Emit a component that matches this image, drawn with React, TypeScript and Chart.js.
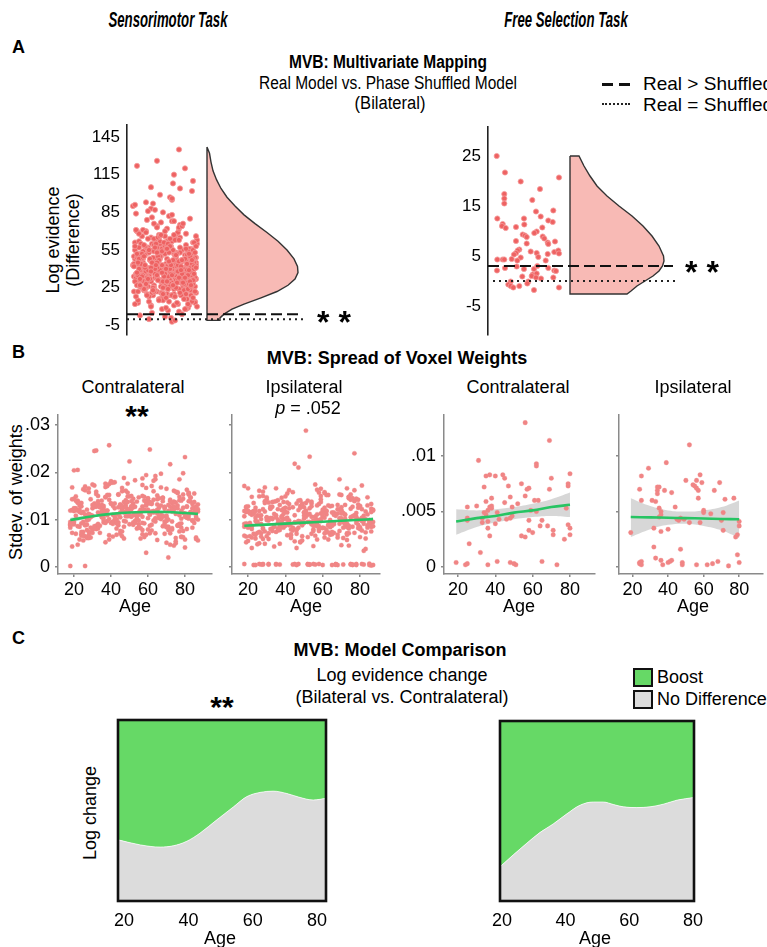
import React, { useEffect, useRef } from "react";
import { Chart, registerables } from "chart.js";
Chart.register(...registerables);

const SANS = '"Liberation Sans", Arial, Helvetica, sans-serif';
Chart.defaults.font.family = SANS;
Chart.defaults.color = "#000";

// ---------------- Panel A : Sensorimotor (log evidence difference) ----------------
const SENS_LOGEV = [
  42, 37, 55, 28, 61, 19, 47, 33, 70, 24, 39, 51, 13, 44, 30, 58, 36, 22, 49, 66,
  41, 27, 53, 35, 8, 45, 31, 62, 18, 40, 57, 26, 48, 34, 75, 21, 43, 38, 52, 16,
  29, 46, 59, 32, 11, 50, 37, 68, 25, 42, 80, 20, 39, 54, 14, 47, 33, 63, 28, 44,
  36, 56, 23, 41, 72, 30, 48, 17, 38, 60, 27, 45, 9, 35, 52, 31, 43, 65, 22, 40,
  34, 50, 26, 46, 78, 19, 37, 57, 29, 42, 12, 49, 33, 61, 24, 39, 55, 31, 88, 44,
  27, 41, 53, 36, 15, 47, 30, 64, 21, 43, 35, 58, 25, 48, 6, 38, 51, 32, 70, 45,
  23, 40, 56, 34, 18, 44, 29, 67, 37, 52, 26, 46, 10, 39, 59, 32, 42, 82, 28, 49,
  36, 54, 20, 43, 74, 31, 47, 16, 38, 62, 25, 45, 33, 57, 22, 40, 93, 30, 50, 35,
  44, 28, 60, 37, 13, 48, 26, 69, 34, 51, 19, 41, 55, 30, 46, 85, 24, 39, 63, 32,
  42, 17, 53, 36, 76, 27, 45, 58, 21, 38, 49, 31, 7, 43, 66, 29, 52, 35, 40, 97,
  25, 47, 33, 61, 14, 39, 54, 28, 44, 72, 22, 36, 50, 31, 86, 41, 19, 57, 34, 46,
  26, 48, 38, 65, 12, 43, 30, 55, 37, 79, 23, 45, 32, 60, 18, 40, 51, 29, 104, 35,
  47, 21, 42, 68, 33, 53, 9, 38, 27, 49, 36, 63, 24, 44, 15, 31, 57, 40, 90, 34,
  50, 28, 41, 73, 20, 46, 37, 59, 26, 43, 11, 35, 52, 30, 66, 39, 23, 48, 83, 32,
  45, 18, 40, 56, 29, 71, 36, 44, 14, 51, 33, 62, 25, 42, 3, 38, 54, 31, 110, 47,
  24, 39, 58, 35, 81, 27, 46, 19, 41, 64, 30, 49, 37, 16, 55, 43, 92, 28, 34, 120,
  1, 44, 21, 52, 36, 77, 29, 47, 12, 40, 61, 33, 25, 48, 99, 38, 20, 56, 31, 135,
  5, 43, 26, 67, 35, 50, 17, 39, 74, 30, 45, 8, 53, 37, 87, 23, 42, 60, 115, -2,
  126, 122, 105, 102, 95, 2, 4, 0, -1, 91,
  33, 48, 21, 57, 39, 26, 64, 43, 18, 52, 36, 71, 29, 45, 11, 58, 40, 24, 50, 35,
  62, 27, 46, 31, 55, 19, 41, 68, 34, 49, 23, 60, 38, 14, 53, 30, 44, 76, 26, 47,
  37, 56, 22, 42, 65, 32, 51, 17, 40, 59, 28, 45, 84, 35, 20, 48, 63, 31, 43, 10,
  54, 25, 39, 69, 30, 47, 16, 58, 36, 44, 27, 61, 41, 22, 50, 33, 73, 38, 19, 46,
  29, 52, 35, 66, 24, 43, 57, 13, 40, 31, 55, 21, 48, 37, 78, 26, 45, 60, 34, 8,
  42, 18, 53, 30, 64, 39, 25, 49, 36, 58, 23, 44, 70, 32, 51, 15, 41, 96, 28, 47,
  38, 56, 20, 45, 67, 33, 50, 27, 43, 108,
];
const SENS_JITTER = [
  14, 52, 33, 61, 8, 41, 25, 67, 19, 47, 36, 58, 11, 29, 64, 44, 22, 55, 9, 38,
  62, 27, 49, 16, 35, 69, 43, 12, 57, 31, 21, 65, 40, 7, 53, 26, 46, 60, 18, 34,
  45, 10, 59, 37, 24, 66, 30, 50, 15, 42, 63, 20, 54, 32, 68, 13, 48, 28, 56, 39,
  23, 64, 17, 51, 40, 9, 58, 35, 27, 70, 44, 14, 61, 22, 47, 33, 6, 53, 30, 67,
  50, 31, 68, 12, 45, 26, 57, 19, 62, 38, 8, 49, 28, 66, 41, 16, 55, 36, 24, 60,
  37, 58, 21, 46, 11, 63, 34, 48, 25, 69, 15, 43, 56, 29, 52, 18, 65, 39, 10, 54,
  28, 47, 62, 20, 39, 7, 54, 32, 66, 13, 44, 59, 24, 50, 35, 68, 17, 42, 61, 26,
  56, 16, 40, 65, 30, 49, 12, 60, 23, 45, 37, 67, 9, 53, 27, 41, 19, 63, 34, 48,
  11, 43, 25, 57, 68, 33, 21, 51, 39, 14, 64, 29, 46, 8, 59, 36, 52, 22, 70, 31,
  65, 36, 53, 9, 27, 60, 45, 18, 56, 32, 69, 24, 41, 62, 15, 50, 38, 10, 57, 43,
  19, 55, 30, 67, 42, 13, 61, 37, 26, 52, 7, 46, 33, 58, 21, 64, 44, 29, 12, 49,
  40, 8, 63, 24, 51, 35, 17, 66, 43, 20, 57, 31, 69, 14, 47, 26, 60, 38, 53, 16,
  59, 34, 46, 12, 68, 22, 39, 55, 10, 63, 28, 48, 18, 65, 36, 54, 30, 43, 6, 61,
  31, 66, 20, 52, 37, 14, 58, 27, 47, 41, 62, 11, 50, 24, 69, 33, 57, 16, 45, 23,
  48, 22, 56, 35, 61, 9, 44, 29, 65, 18, 53, 40, 27, 67, 13, 60, 35, 51, 66, 32,
  17, 60, 38, 64, 25, 46, 11, 54, 30, 43, 20, 68, 36, 57, 8, 49, 26, 62, 41, 58,
  44, 28, 69, 15, 57, 34, 50, 23, 61, 12, 38, 55, 26, 66, 33, 19, 47, 59, 31, 52,
  25, 53, 13, 47, 30, 63, 39, 21, 55, 36, 16, 59, 42, 10, 28, 65, 50, 33, 47, 45,
  30, 10, 24, 65, 45, 38, 55, 22, 48, 8,
  20, 58, 35, 12, 66, 43, 27, 51, 9, 62, 38, 16, 55, 30, 47, 69, 24, 41, 7, 60,
  33, 13, 52, 67, 26, 45, 18, 59, 37, 10, 63, 29, 50, 22, 68, 40, 15, 56, 34, 46,
  64, 39, 11, 54, 31, 21, 48, 66, 28, 17, 57, 42, 9, 61, 36, 23, 52, 13, 44, 70,
  27, 49, 62, 19, 40, 65, 32, 8, 55, 14, 46, 37, 24, 68, 11, 58, 30, 51, 20, 42,
  56, 10, 45, 33, 61, 18, 28, 50, 39, 66, 22, 53, 12, 35, 47, 64, 25, 41, 15, 58,
  7, 48, 30, 63, 21, 54, 36, 16, 67, 43, 26, 60, 38, 13, 49, 32, 69, 45, 19, 55,
  24, 40, 59, 11, 34, 52, 17, 64, 29, 46,
];
const SENS_VIOLIN_V = [137, 132, 125, 118, 111, 104, 97, 90, 83, 76, 69, 62, 55, 48, 42, 37, 32, 27, 22, 17, 12, 8, 4, 1, -1];
const SENS_VIOLIN_W = [0, 2.5, 4, 6, 9.5, 14, 20, 28, 37, 48, 60, 71, 80, 87, 90.5, 91, 88, 81, 70, 54, 37, 25, 17, 13, 13];
const SENS_REAL_MEAN = 4;
const SHUFFLED_LEVEL = 0;
const SENS_Y_TICKS = [-5, 25, 55, 85, 115, 145];

// ---------------- Panel A : Free selection ----------------
const FS_LOGEV = [
  25, 21.7, 19.9, 20.7, 18.4, 17.4, 16.5, 15.5, 16.2, 13.9, 14.1, 12.5, 12.9, 12.5, 12.1, 11.8, 11.4, 11.0, 10.6, 11.3,
  10.8, 10.7, 9.9, 9.6, 9.3, 9.1, 8.8, 8.9, 8.5, 8.0, 7.9, 7.7, 7.4, 7.5, 6.3, 6.1, 5.6, 5.3, 5.9, 5.6,
  4.8, 5.8, 6.1, 5.5, 5.4, 4.7, 4.4, 4.3, 4.3, 4.3, 4.1, 4.1, 2.9, 2.4, 2.4, 3.0, 2.6, 2.1, 2.6, 2.1,
  2.0, 1.3, 1.0, 1.5, 0.5, 0.7, 0.9, 0.7, -0.1, -0.1, -0.7, -1.0, -1.3, -1.0, -0.5, -1.8, -1.3,
];
const FS_JITTER = [
  8.7, 17, 32.7, 71, 52, 16.3, 16.3, 16.3, 44.3, 48, 65.3, 9.3, 52.7, 36, 60.3, 64.7, 14.7, 14, 17.7, 36.3,
  28, 54.3, 48.7, 46.3, 34.7, 37, 38.7, 54.7, 56.3, 28, 67, 59.7, 60.3, 38.7, 31.3, 29.7, 28, 26, 42.7, 48.7,
  50.3, 66.3, 70.3, 71, 59.7, 32.7, 23.7, 9.3, 14.7, 16.3, 29.3, 57.7, 28.7, 36, 46, 49.3, 60.3, 9, 17, 66.3,
  68, 44.7, 43.7, 48.7, 53, 65.3, 34.3, 48, 22.7, 40.3, 20.3, 22.7, 25.3, 31.3, 39.3, 46, 71,
];
const FS_VIOLIN_V = [25, 25, 23, 21, 19, 17, 15, 13, 11, 9, 7, 5, 4, 3, 2, 1, 0, -1, -2, -2.6];
const FS_VIOLIN_W = [0, 9, 14, 20, 27, 37, 49, 62, 73, 82, 89, 93.5, 94, 92.5, 89, 83, 75, 67, 61, 57];
const FS_REAL_MEAN = 3;
const FS_Y_TICKS = [-5, 5, 15, 25];

// ---------------- Panel B : spread of voxel weights ----------------
const SENS_AGE = [
  18, 23, 27, 31, 35, 39, 44, 48, 52, 57, 61, 65, 70, 74, 78, 83, 86, 20, 25, 29,
  33, 37, 42, 46, 50, 55, 59, 63, 68, 72, 76, 81, 85, 19, 22, 26, 30, 34, 38, 43,
  47, 51, 56, 60, 64, 69, 73, 77, 82, 87, 21, 24, 28, 32, 36, 41, 45, 49, 54, 58,
  62, 66, 71, 75, 79, 84, 18, 23, 27, 31, 35, 40, 44, 48, 53, 57, 61, 65, 70, 74,
  78, 83, 86, 20, 25, 29, 33, 38, 42, 46, 51, 55, 59, 63, 67, 72, 76, 80, 85, 19,
  22, 26, 30, 34, 39, 43, 47, 52, 56, 60, 64, 68, 73, 77, 81, 86, 21, 24, 28, 32,
  37, 41, 45, 50, 54, 58, 62, 66, 71, 75, 79, 84, 18, 23, 27, 31, 36, 40, 44, 49,
  53, 57, 61, 65, 69, 74, 78, 82, 87, 20, 25, 29, 33, 38, 42, 47, 51, 55, 59, 63,
  67, 72, 76, 80, 85, 19, 22, 26, 30, 35, 39, 43, 48, 52, 56, 60, 64, 69, 73, 77,
  81, 86, 21, 24, 28, 32, 37, 41, 46, 50, 54, 58, 62, 66, 71, 75, 79, 83, 18, 23,
  27, 31, 36, 40, 45, 49, 53, 57, 61, 65, 70, 74, 78, 82, 87, 20, 25, 29, 34, 38,
  42, 47, 51, 55, 59, 63, 68, 72, 76, 80, 85, 19, 22, 26, 30, 35, 39, 44, 48, 52,
  56, 60, 64, 69, 73, 77, 81, 86, 21, 24, 28, 33, 37, 41, 46, 50, 54, 58, 62, 67,
  71, 75, 79, 84, 18, 23, 27, 32, 36, 40, 45, 49, 53, 57, 61, 65, 70, 74, 78, 82,
  19, 24, 28, 33, 37, 41, 46, 50, 55, 59, 63, 68, 72, 77, 81, 86, 21, 26, 30, 35,
  39, 43, 48, 52, 57, 61, 65, 70, 74, 79, 83, 18, 22, 27, 32, 36, 40, 45, 49, 54,
  58, 62, 67, 71, 76, 80, 85, 20, 25, 29, 34, 38, 42, 47, 51, 56, 60, 64, 69, 73,
  78, 82, 87, 19, 24, 28, 33, 37, 41, 46, 50, 55, 59, 63, 68, 72, 77, 81, 86, 22,
  26, 31, 35, 39, 44, 48, 53, 57, 61, 66, 70, 75, 79, 84, 18, 23, 28, 32, 36, 41,
  45, 49, 54, 58, 62, 67, 71, 76, 80, 85, 20, 25, 29, 34, 38, 43, 47, 52, 56, 60,
  65, 69, 74, 78, 83, 87, 21, 26, 30, 35, 39, 44, 48, 53, 57, 61, 66, 70, 75, 79,
  84, 19, 24, 28, 33, 37, 42, 46, 51, 55, 59, 64, 68, 73, 77, 82, 86, 22, 27, 31,
];
const SENS_CONTRA_SD = [
  .0095, .0121, .0078, .0134, .0105, .0142, .0088, .0117, .0126, .0069, .0113, .0151, .0097, .0124, .0083, .0138, .0102, .0090, .0116, .0062,
  .0129, .0147, .0109, .0075, .0122, .0098, .0136, .0115, .0086, .0127, .0158, .0104, .0093, .0120, .0205, .0111, .0131, .0072, .0119, .0101,
  .0085, .0128, .0112, .0145, .0096, .0123, .0079, .0109, .0139, .0117, .0070, .0114, .0100, .0246, .0125, .0091, .0132, .0107, .0081, .0120,
  .0133, .0103, .0118, .0061, .0144, .0098, .0002, .0116, .0089, .0127, .0108, .0178, .0094, .0131, .0112, .0150, .0087, .0121, .0105, .0137,
  .0092, .0115, .0128, .0204, .0074, .0110, .0139, .0097, .0124, .0167, .0106, .0083, .0130, .0118, .0101, .0142, .0088, .0113, .0125, .0090,
  .0047, .0002, .0108, .0126, .0257, .0099, .0115, .0134, .0082, .0121, .0103, .0146, .0117, .0091, .0128, .0106, .0120, .0066, .0112, .0087,
  .0118, .0095, .0131, .0223, .0107, .0140, .0089, .0125, .0078, .0136, .0114, .0098, .0119, .0085, .0103, .0245, .0129, .0093, .0110, .0157,
  .0127, .0106, .0248, .0113, .0091, .0138, .0119, .0102, .0122, .0144, .0056, .0105, .0081, .0119, .0134, .0097, .0128, .0115, .0030, .0142,
  .0110, .0217, .0087, .0232, .0116, .0043, .0140, .0065, .0124, .0113, .0175, .0092, .0107, .0144, .0119, .0139, .0101, .0126, .0082, .0148,
  .0105, .0125, .0149, .0069, .0111, .0127, .0169, .0095, .0122, .0108, .0138, .0092, .0117, .0105, .0131, .0050, .0198, .0116, .0089, .0058,
  .0121, .0086, .0104, .0134, .0115, .0176, .0097, .0128, .0112, .0143, .0085, .0121, .0064, .0153, .0132, .0118, .0095, .0083, .0127, .0109,
  .0100, .0137, .0122, .0090, .0130, .0160, .0108, .0047, .0124, .0106, .0114, .0120, .0136, .0088, .0072, .0115, .0101, .0153, .0126, .0094,
  .0116, .0103, .0185, .0127, .0096, .0141, .0080, .0118, .0124, .0092, .0061, .0133, .0148, .0110, .0129, .0117, .0099, .0121, .0135, .0197,
  .0020, .0112, .0063, .0133, .0091, .0129, .0101, .0080, .0116, .0134, .0105, .0122, .0111, .0093, .0137, .0119, .0084, .0045, .0140, .0108,
  .0072, .0135, .0158, .0091, .0176, .0064, .0123, .0149, .0084, .0167, .0098, .0139, .0071, .0185, .0127, .0059, .0108, .0162, .0079, .0131,
  .0152, .0068, .0141, .0089, .0173, .0110, .0057, .0165, .0128, .0076, .0146, .0083, .0119, .0061, .0154, .0094, .0181, .0070, .0137, .0103,
  .0148, .0077, .0168, .0100, .0130, .0058, .0155, .0124, .0066, .0143, .0087, .0171, .0106, .0060, .0150, .0121, .0079, .0192, .0096, .0135,
  .0063, .0157, .0100, .0143, .0074, .0166, .0115, .0052, .0129, .0160, .0090, .0147, .0068, .0182, .0106, .0139, .0075, .0163, .0120, .0086,
  .0170, .0081, .0140, .0058, .0126, .0161, .0093, .0187, .0071, .0145, .0108, .0054, .0153, .0124, .0088, .0135, .0067, .0159, .0099, .0178,
  .0076, .0149, .0112, .0063, .0171, .0130, .0085, .0156, .0041, .0137, .0095, .0164, .0073, .0127, .0152, .0081, .0188, .0109, .0060, .0144,
  .0132, .0070, .0161, .0102, .0147, .0056, .0140, .0089, .0174, .0118, .0067, .0153, .0096, .0183, .0078, .0134, .0107, .0051, .0159, .0125,
  .0083, .0168, .0128, .0074, .0150, .0093, .0179, .0065, .0139, .0110, .0194, .0071, .0146, .0121, .0087, .0155, .0062, .0136, .0098, .0172,
];
const SENS_IPSI_SD = [
  .0085, .0112, .0064, .0098, .0005, .0121, .0077, .0093, .0140, .0058, .0104, .0089, .0126, .0071, .0006, .0117, .0095, .0083, .0109, .0049,
  .0102, .0131, .0088, .0004, .0115, .0079, .0097, .0152, .0068, .0110, .0085, .0122, .0007, .0092, .0116, .0074, .0105, .0138, .0087, .0061,
  .0097, .0119, .0005, .0083, .0128, .0091, .0166, .0072, .0108, .0095, .0113, .0004, .0080, .0124, .0100, .0067, .0218, .0088, .0106, .0133,
  .0078, .0115, .0094, .0006, .0101, .0147, .0118, .0070, .0090, .0005, .0109, .0125, .0083, .0096, .0233, .0111, .0062, .0087, .0120, .0145,
  .0099, .0073, .0003, .0117, .0092, .0135, .0081, .0107, .0162, .0094, .0288, .0076, .0113, .0089, .0005, .0102, .0127, .0084, .0098, .0052,
  .0110, .0006, .0143, .0086, .0101, .0079, .0120, .0095, .0174, .0107, .0068, .0131, .0092, .0240, .0104, .0085, .0115, .0097, .0059, .0123,
  .0087, .0104, .0006, .0093, .0128, .0076, .0111, .0090, .0005, .0142, .0099, .0083, .0107, .0118, .0071, .0136, .0093, .0102, .0158, .0065,
  .0112, .0090, .0125, .0004, .0103, .0081, .0114, .0098, .0121, .0055, .0096, .0139, .0076, .0105, .0092, .0210, .0118, .0087, .0101, .0130,
  .0005, .0093, .0107, .0080, .0004, .0116, .0086, .0149, .0099, .0074, .0112, .0091, .0129, .0063, .0106, .0004, .0095, .0121, .0084, .0108,
  .0097, .0116, .0089, .0125, .0006, .0103, .0078, .0092, .0134, .0108, .0070, .0006, .0117, .0094, .0083, .0105, .0125, .0060, .0091, .0114,
  .0101, .0006, .0122, .0087, .0109, .0094, .0005, .0130, .0082, .0115, .0103, .0148, .0004, .0100, .0086, .0119, .0092, .0075, .0112, .0096,
  .0124, .0083, .0106, .0098, .0137, .0073, .0113, .0089, .0004, .0127, .0094, .0118, .0080, .0108, .0065, .0166, .0091, .0126, .0052, .0110,
  .0088, .0117, .0099, .0153, .0071, .0109, .0006, .0123, .0093, .0104, .0082, .0127, .0096, .0115, .0040, .0102, .0134, .0086, .0119, .0005,
  .0097, .0123, .0082, .0111, .0006, .0135, .0090, .0103, .0077, .0116, .0094, .0129, .0005, .0100, .0114, .0069, .0152, .0087, .0106, .0034,
  .0064, .0118, .0005, .0137, .0082, .0155, .0070, .0126, .0096, .0143, .0058, .0004, .0111, .0162, .0077, .0133, .0089, .0050, .0147, .0105,
  .0123, .0067, .0141, .0006, .0086, .0158, .0074, .0119, .0045, .0132, .0101, .0171, .0062, .0005, .0127, .0081, .0149, .0094, .0056, .0138,
  .0079, .0152, .0108, .0061, .0005, .0129, .0088, .0166, .0072, .0117, .0043, .0146, .0098, .0006, .0135, .0066, .0121, .0084, .0185, .0057,
  .0144, .0091, .0004, .0126, .0068, .0159, .0103, .0049, .0136, .0078, .0115, .0006, .0150, .0087, .0062, .0131, .0107, .0172, .0075, .0040,
  .0118, .0059, .0139, .0083, .0005, .0125, .0095, .0163, .0071, .0110, .0046, .0153, .0089, .0130, .0066, .0004, .0122, .0080, .0141, .0100,
  .0054, .0134, .0090, .0157, .0073, .0006, .0114, .0145, .0063, .0099, .0128, .0048, .0168, .0085, .0120, .0069, .0140, .0005, .0106, .0082,
  .0129, .0076, .0148, .0093, .0038, .0119, .0065, .0161, .0104, .0006, .0137, .0081, .0053, .0124, .0097, .0156, .0072, .0113, .0005, .0142,
  .0088, .0127, .0060, .0150, .0101, .0005, .0133, .0079, .0116, .0044, .0165, .0092, .0122, .0068, .0139, .0005, .0086, .0148, .0109, .0071,
];
const SENS_FIT_AGE = [18, 30, 40, 50, 60, 70, 80, 87];
const SENS_CONTRA_FIT = [.0099, .0107, .0112, .0115, .0116, .0116, .0114, .0112];
const SENS_CONTRA_LO = [.0094, .0104, .0110, .0113, .0114, .0114, .0111, .0107];
const SENS_CONTRA_HI = [.0104, .0110, .0114, .0117, .0118, .0118, .0117, .0117];
const SENS_IPSI_FIT = [.0087, .00894, .00915, .00935, .00955, .00976, .00996, .0101];
const SENS_IPSI_LO = [.0083, .0087, .0090, .0092, .0094, .0096, .0097, .0097];
const SENS_IPSI_HI = [.0091, .0092, .0093, .0095, .0097, .0099, .0102, .0105];

const FS_CONTRA_AGE = [
  19, 24, 25, 25, 25, 25, 26, 30, 31, 32, 33, 33, 34, 34, 35, 35, 35, 36, 36, 36,
  36, 37, 37, 37, 38, 38, 38, 40, 40, 41, 41, 42, 44, 45, 45, 46, 47, 48, 48, 48,
  49, 49, 50, 51, 52, 54, 54, 56, 56, 56, 57, 58, 58, 58, 59, 60, 61, 62, 62, 62,
  63, 64, 65, 65, 68, 69, 69, 70, 71, 71, 73, 77, 78, 79, 79, 79, 80, 80, 80,
];
const FS_CONTRA_SD = [
  .0004, .0002, .0003, .0054, .0044, .0042, .0021, .0055, .0096, .0013, .0044, .0040, .0049, .0072, .0082, .0059, .0047, .0041, .0051, .0035,
  .0002, .0083, .0054, .0028, .0062, .0055, .0053, .0082, .0039, .0049, .0005, .0043, .0083, .0080, .0058, .0043, .0073, .0063, .0044, .0004,
  .0054, .0046, .0003, .0002, .0057, .0075, .0028, .0130, .0064, .0027, .0070, .0071, .0033, .0042, .0051, .0031, .0060, .0093, .0091, .0050,
  .0060, .0037, .0042, .0005, .0037, .0114, .0070, .0080, .0029, .0033, .0002, .0025, .0053, .0075, .0073, .0038, .0084, .0035, .0029,
];
const FS_IPSI_AGE = [
  19, 24, 24, 25, 25, 24, 25, 25, 29, 31, 32, 32, 33, 33, 34, 34, 34, 35, 35, 35,
  36, 36, 36, 36, 37, 38, 39, 40, 41, 42, 40, 42, 44, 45, 46, 47, 47, 48, 48, 49,
  52, 50, 52, 54, 55, 56, 56, 57, 57, 58, 58, 59, 60, 60, 56, 62, 65, 68, 64, 66,
  69, 70, 71, 71, 72, 74, 77, 78, 79, 79, 80, 80, 80,
];
const FS_IPSI_SD = [
  .0031, .0004, .0003, .0005, .0002, .0070, .0082, .0060, .0089, .0060, .0035, .0018, .0008, .0059, .0069, .0066, .0072, .0072, .0053, .0045,
  .0050, .0047, .0032, .0006, .0002, .0069, .0094, .0004, .0005, .0006, .0034, .0067, .0054, .0043, .0042, .0044, .0016, .0004, .0002, .0043,
  .0110, .0078, .0040, .0074, .0073, .0071, .0078, .0069, .0062, .0040, .0083, .0076, .0051, .0049, .0002, .0002, .0003, .0005, .0048, .0069,
  .0076, .0042, .0049, .0033, .0061, .0001, .0062, .0027, .0029, .0011, .0037, .0041, .0004,
];
const FS_FIT_AGE = [19, 30, 40, 50, 60, 70, 80];
const FS_CONTRA_FIT = [.0041, .0044, .0046, .0049, .0051, .0054, .0056];
const FS_CONTRA_LO = [.0029, .0036, .0040, .0043, .0045, .0046, .0045];
const FS_CONTRA_HI = [.0052, .0051, .0052, .0054, .0057, .0061, .0067];
const FS_IPSI_FIT = [.0045, .00447, .00444, .0044, .00437, .00433, .0043];
const FS_IPSI_LO = [.0027, .0034, .0038, .0039, .0037, .0033, .0026];
const FS_IPSI_HI = [.0062, .0055, .0051, .0050, .0051, .0054, .0060];

const AGE_TICKS = [20, 40, 60, 80];
const SENS_SD_TICKS = [0, .01, .02, .03];
const SENS_SD_LABELS = ["0", ".01", ".02", ".03"];
const FS_SD_TICKS = [0, .005, .01];
const FS_SD_LABELS = ["0", ".005", ".01"];

// ---------------- Panel C : model comparison (proportion "No Difference") ----------------
const SENS_CMP_AGE = [18.1, 25, 31.2, 35.3, 39.5, 43.6, 48.8, 54, 58.1, 62.3, 66.4, 70.6, 74.7, 78.8, 82.8];
const SENS_CMP_NODIFF = [0.338, 0.31, 0.298, 0.305, 0.33, 0.375, 0.448, 0.52, 0.576, 0.6, 0.607, 0.594, 0.572, 0.558, 0.567];
const FS_CMP_AGE = [19.4, 23.6, 27.8, 31.9, 36.1, 40.3, 44.5, 48.7, 51.8, 55, 58.1, 62.3, 66.5, 70.7, 74.9, 80.3];
const FS_CMP_NODIFF = [0.19, 0.257, 0.321, 0.38, 0.428, 0.483, 0.532, 0.55, 0.55, 0.536, 0.523, 0.519, 0.523, 0.538, 0.56, 0.575];

// ---------------- styling ----------------
const DOT_A = "#EE6262";
const DOT_A_EDGE = "#F59A9A";
const DOT_B = "#F08585";
const VIOLIN_FILL = "#F8BAB5";
const GREEN_LINE = "#27C463";
const BAND = "rgba(205,205,205,0.8)";
const BOOST = "#66D966";
const NODIFF = "#DCDCDC";

type Rect = { left: number; top: number; width: number; height: number };
type Area = { l: number; t: number; r: number; b: number };

const pts = (xs: number[], ys: number[]) => ys.map((y, i) => ({ x: xs[i], y }));

const polyFill = {
  id: "polyFill",
  beforeDatasetsDraw(chart: any) {
    const ctx = chart.ctx;
    chart.data.datasets.forEach((ds: any, i: number) => {
      if (!ds.polyColor) return;
      const els = chart.getDatasetMeta(i).data;
      ctx.save();
      ctx.beginPath();
      els.forEach((p: any, j: number) => (j ? ctx.lineTo(p.x, p.y) : ctx.moveTo(p.x, p.y)));
      ctx.closePath();
      ctx.fillStyle = ds.polyColor;
      ctx.fill();
      ctx.restore();
    });
  },
};

const frame = {
  id: "frame",
  afterDraw(chart: any) {
    const { left, top, right, bottom } = chart.chartArea;
    const ctx = chart.ctx;
    ctx.save();
    ctx.lineWidth = 2.6;
    ctx.strokeStyle = "#111";
    ctx.strokeRect(left, top, right - left, bottom - top);
    ctx.restore();
  },
};

function mkScale(o: any) {
  return {
    type: "linear",
    position: o.pos,
    min: o.min,
    max: o.max,
    afterBuildTicks: (s: any) => {
      s.ticks = (o.ticks || []).map((v: number) => ({ value: v }));
    },
    afterFit: (s: any) => {
      if (o.pos === "left") s.width = o.size;
      else s.height = o.size;
      s.paddingLeft = 0;
      s.paddingRight = 0;
      s.paddingTop = 0;
      s.paddingBottom = 0;
    },
    ticks: {
      display: !!o.labels,
      padding: o.pad ?? 6,
      autoSkip: false,
      maxRotation: 0,
      minRotation: 0,
      font: { size: o.font ?? 17, family: SANS },
      color: "#000",
      callback: (_v: any, i: number) => (o.labels ? o.labels[i] : ""),
    },
    grid: {
      display: !!o.tick,
      drawOnChartArea: false,
      drawTicks: !!o.tick,
      tickLength: o.tick || 0,
      color: o.color,
      lineWidth: o.width,
    },
    border: { display: o.border !== false, color: o.color, width: o.width },
  };
}

function mkConfig(rect: Rect, area: Area, xS: any, yS: any, datasets: any[], plugins: any[] = [], type = "scatter") {
  const xHidden = !!xS.hidden;
  const xs = xHidden
    ? { type: "linear", display: false, min: xS.min, max: xS.max }
    : mkScale({ ...xS, pos: "bottom", size: rect.top + rect.height - area.b });
  const ys = mkScale({ ...yS, pos: "left", size: area.l - rect.left });
  return {
    type,
    data: { datasets },
    plugins,
    options: {
      responsive: false,
      animation: false,
      events: [],
      layout: {
        padding: {
          left: 0,
          top: area.t - rect.top,
          right: rect.left + rect.width - area.r,
          bottom: xHidden ? rect.top + rect.height - area.b : 0,
        },
      },
      plugins: { legend: { display: false }, tooltip: { enabled: false } },
      scales: { x: xs, y: ys },
    },
  };
}

function violin(base: number, vs: number[], ws: number[]) {
  const top = vs[0];
  const bot = vs[vs.length - 1];
  return [{ x: base, y: top }, ...vs.map((v, i) => ({ x: base + ws[i], y: v })), { x: base, y: bot }, { x: base, y: top }];
}

function rainConfig(rect: Rect, area: Area, yMin: number, yMax: number, yTicks: number[], vals: number[], jit: number[], vV: number[], vW: number[], base: number, mean: number, lineEnd: number, dotStart: number) {
  const datasets = [
    { data: [{ x: 0, y: mean }, { x: lineEnd, y: mean }], showLine: true, pointRadius: 0, borderColor: "#111", borderWidth: 2, borderDash: [11, 5] },
    { data: [{ x: dotStart, y: SHUFFLED_LEVEL }, { x: lineEnd + 2, y: SHUFFLED_LEVEL }], showLine: true, pointRadius: 0, borderColor: "#222", borderWidth: 2, borderDash: [2, 4] },
    { data: pts(jit, vals), pointRadius: 2.6, backgroundColor: DOT_A, borderColor: DOT_A_EDGE, borderWidth: 0.8 },
    { data: violin(base, vV, vW), showLine: true, pointRadius: 0, borderColor: "#333", borderWidth: 1.4, tension: 0, polyColor: VIOLIN_FILL },
  ];
  return mkConfig(
    rect,
    area,
    { hidden: true, min: 0, max: area.r - area.l },
    { min: yMin, max: yMax, ticks: yTicks, labels: yTicks.map(String), pad: 7, font: 17, color: "#222", width: 1.6 },
    datasets,
    [polyFill]
  );
}

function spreadConfig(rect: Rect, area: Area, xr: number[], yr: number[], yTicks: number[], yLabels: string[] | null, ages: number[], vals: number[], fitAge: number[], fit: number[], lo: number[], hi: number[], radius: number) {
  const datasets = [
    { data: pts(fitAge, fit), showLine: true, pointRadius: 0, borderColor: GREEN_LINE, borderWidth: 2.6, tension: 0.4 },
    { data: pts(ages, vals), pointRadius: radius, backgroundColor: DOT_B, borderColor: "rgba(240,133,133,0.6)", borderWidth: 0.5 },
    { data: pts(fitAge, hi), showLine: true, pointRadius: 0, borderColor: "rgba(0,0,0,0)", borderWidth: 1, tension: 0.4 },
    { data: pts(fitAge, lo), showLine: true, pointRadius: 0, borderColor: "rgba(0,0,0,0)", borderWidth: 1, tension: 0.4, fill: "-1", backgroundColor: BAND },
  ];
  return mkConfig(
    rect,
    area,
    { min: xr[0], max: xr[1], ticks: AGE_TICKS, labels: AGE_TICKS.map(String), pad: 2, font: 18, tick: 3, color: "#8a8a8a", width: 1.5 },
    { min: yr[0], max: yr[1], ticks: yTicks, labels: yLabels, pad: 5, font: 18, tick: 3, color: "#8a8a8a", width: 1.5 },
    datasets
  );
}

function compareConfig(rect: Rect, area: Area, xr: number[], ages: number[], nodiff: number[]) {
  const datasets = [
    { data: pts(ages, nodiff), pointRadius: 0, borderColor: "rgba(255,255,255,0.7)", borderWidth: 1, tension: 0.4, cubicInterpolationMode: "monotone", fill: "origin", backgroundColor: NODIFF },
    { data: pts(ages, nodiff.map((p) => p + (1 - p))), pointRadius: 0, borderColor: "rgba(0,0,0,0)", borderWidth: 1, fill: "-1", backgroundColor: BOOST },
  ];
  return mkConfig(
    rect,
    area,
    { min: xr[0], max: xr[1], ticks: AGE_TICKS, labels: AGE_TICKS.map(String), pad: 9, font: 18, border: false, color: "#000", width: 0 },
    { min: 0, max: 1, ticks: [], labels: null, border: false, color: "#000", width: 0 },
    datasets,
    [frame],
    "line"
  );
}

function Plot({ rect, make }: { rect: Rect; make: () => any }) {
  const ref = useRef<HTMLCanvasElement>(null);
  useEffect(() => {
    const c = new Chart(ref.current as HTMLCanvasElement, make());
    return () => c.destroy();
  }, []);
  return (
    <canvas
      ref={ref}
      width={rect.width}
      height={rect.height}
      style={{ position: "absolute", left: rect.left, top: rect.top, width: rect.width, height: rect.height }}
    />
  );
}

function T(props: { x: number; y: number; children: any; size?: number; bold?: boolean; italic?: boolean; left?: boolean; rotate?: boolean; lh?: number; sx?: number }) {
  const { x, y, children, size = 18, bold, italic, left, rotate, lh = 1.15, sx } = props;
  let tf = rotate ? "translate(-50%,-50%) rotate(-90deg)" : left ? "translate(0,-50%)" : "translate(-50%,-50%)";
  if (sx) tf += ` scaleX(${sx})`;
  return (
    <div
      style={{
        position: "absolute",
        left: x,
        top: y,
        transform: tf,
        fontSize: size,
        fontWeight: bold ? 700 : 400,
        fontStyle: italic ? "italic" : "normal",
        fontFamily: SANS,
        lineHeight: lh,
        whiteSpace: "nowrap",
        textAlign: "center",
        color: "#000",
      }}
    >
      {children}
    </div>
  );
}

const R_AL: Rect = { left: 80, top: 118, width: 290, height: 225 };
const A_AL: Area = { l: 127, t: 125, r: 347, b: 335 };
const R_AR: Rect = { left: 440, top: 118, width: 290, height: 225 };
const A_AR: Area = { l: 488, t: 127, r: 700, b: 335 };
const R_B1: Rect = { left: 0, top: 405, width: 225, height: 195 };
const A_B1: Area = { l: 58, t: 415, r: 212, b: 574 };
const R_B2: Rect = { left: 225, top: 405, width: 160, height: 195 };
const A_B2: Area = { l: 232, t: 415, r: 380, b: 574 };
const R_B3: Rect = { left: 395, top: 405, width: 205, height: 195 };
const A_B3: Area = { l: 444, t: 415, r: 595, b: 574 };
const R_B4: Rect = { left: 605, top: 405, width: 162, height: 195 };
const A_B4: Area = { l: 619, t: 415, r: 767, b: 574 };
const R_C1: Rect = { left: 100, top: 712, width: 245, height: 222 };
const A_C1: Area = { l: 118, t: 720, r: 326, b: 901 };
const R_C2: Rect = { left: 480, top: 712, width: 230, height: 222 };
const A_C2: Area = { l: 500, t: 721, r: 694, b: 901 };

export default function App() {
  return (
    <div style={{ position: "absolute", left: 0, top: 0, width: 767, height: 947, overflow: "hidden", background: "#fff" }}>
      {/* headers */}
      <T x={168} y={20} size={22} bold italic sx={0.6}>Sensorimotor Task</T>
      <T x={566} y={20} size={22} bold italic sx={0.6}>Free Selection Task</T>

      {/* Panel A */}
      <T x={12} y={47} bold left>A</T>
      <T x={388} y={62} bold sx={0.86}>MVB: Multivariate Mapping</T>
      <T x={388} y={83} sx={0.86}>Real Model vs. Phase Shuffled Model</T>
      <T x={390} y={103} sx={0.92}>(Bilateral)</T>
      <div style={{ position: "absolute", left: 602, top: 83, width: 11, height: 2.5, background: "#111" }} />
      <div style={{ position: "absolute", left: 619, top: 83, width: 11, height: 2.5, background: "#111" }} />
      <T x={643} y={84} left size={19}>Real &gt; Shuffled</T>
      <div style={{ position: "absolute", left: 602, top: 103, width: 28, height: 0, borderTop: "2px dotted #222" }} />
      <T x={643} y={105} left size={19}>Real = Shuffled</T>
      <T x={63} y={240} rotate lh={1.12}>Log evidence<br />(Difference)</T>
      <Plot rect={R_AL} make={() => rainConfig(R_AL, A_AL, -12.6, 154.5, SENS_Y_TICKS, SENS_LOGEV, SENS_JITTER, SENS_VIOLIN_V, SENS_VIOLIN_W, 80, SENS_REAL_MEAN, 176, 0)} />
      <T x={334} y={322} size={32} bold>* *</T>
      <Plot rect={R_AR} make={() => rainConfig(R_AR, A_AR, -10.8, 30.8, FS_Y_TICKS, FS_LOGEV, FS_JITTER, FS_VIOLIN_V, FS_VIOLIN_W, 82, FS_REAL_MEAN, 185, 5)} />
      <T x={702} y={272} size={32} bold>* *</T>

      {/* Panel B */}
      <T x={12} y={352} bold left>B</T>
      <T x={397} y={358} bold>MVB: Spread of Voxel Weights</T>
      <T x={133} y={387}>Contralateral</T>
      <T x={137} y={416} size={30} bold>**</T>
      <T x={304} y={387}>Ipsilateral</T>
      <T x={308} y={408}><i>p</i> = .052</T>
      <T x={518} y={387}>Contralateral</T>
      <T x={693} y={387}>Ipsilateral</T>
      <T x={16} y={492} rotate>Stdev. of weights</T>
      <Plot rect={R_B1} make={() => spreadConfig(R_B1, A_B1, [11.35, 94.6], [-0.0015, 0.0321], SENS_SD_TICKS, SENS_SD_LABELS, SENS_AGE, SENS_CONTRA_SD, SENS_FIT_AGE, SENS_CONTRA_FIT, SENS_CONTRA_LO, SENS_CONTRA_HI, 2.2)} />
      <Plot rect={R_B2} make={() => spreadConfig(R_B2, A_B2, [11.4, 90.7], [-0.0015, 0.0321], SENS_SD_TICKS, null, SENS_AGE, SENS_IPSI_SD, SENS_FIT_AGE, SENS_IPSI_FIT, SENS_IPSI_LO, SENS_IPSI_HI, 2.2)} />
      <Plot rect={R_B3} make={() => spreadConfig(R_B3, A_B3, [12.5, 93.4], [-0.00063, 0.01369], FS_SD_TICKS, FS_SD_LABELS, FS_CONTRA_AGE, FS_CONTRA_SD, FS_FIT_AGE, FS_CONTRA_FIT, FS_CONTRA_LO, FS_CONTRA_HI, 2.3)} />
      <Plot rect={R_B4} make={() => spreadConfig(R_B4, A_B4, [12.4, 93.1], [-0.00063, 0.01369], FS_SD_TICKS, null, FS_IPSI_AGE, FS_IPSI_SD, FS_FIT_AGE, FS_IPSI_FIT, FS_IPSI_LO, FS_IPSI_HI, 2.3)} />
      <T x={135} y={606}>Age</T>
      <T x={306} y={606}>Age</T>
      <T x={519} y={606}>Age</T>
      <T x={693} y={606}>Age</T>

      {/* Panel C */}
      <T x={12} y={638} bold left>C</T>
      <T x={400} y={650} bold>MVB: Model Comparison</T>
      <T x={402} y={675}>Log evidence change</T>
      <T x={402} y={697}>(Bilateral vs. Contralateral)</T>
      <T x={222} y={707} size={30} bold>**</T>
      <div style={{ position: "absolute", left: 633, top: 668, width: 16, height: 15, background: BOOST, border: "2px solid #111" }} />
      <div style={{ position: "absolute", left: 633, top: 690, width: 16, height: 15, background: NODIFF, border: "2px solid #111" }} />
      <T x={657} y={677} left>Boost</T>
      <T x={657} y={699} left>No Difference</T>
      <T x={90} y={813} rotate>Log change</T>
      <Plot rect={R_C1} make={() => compareConfig(R_C1, A_C1, [18.1, 82.8], SENS_CMP_AGE, SENS_CMP_NODIFF)} />
      <Plot rect={R_C2} make={() => compareConfig(R_C2, A_C2, [19.4, 80.3], FS_CMP_AGE, FS_CMP_NODIFF)} />
      <T x={220} y={938}>Age</T>
      <T x={595} y={938}>Age</T>
    </div>
  );
}
